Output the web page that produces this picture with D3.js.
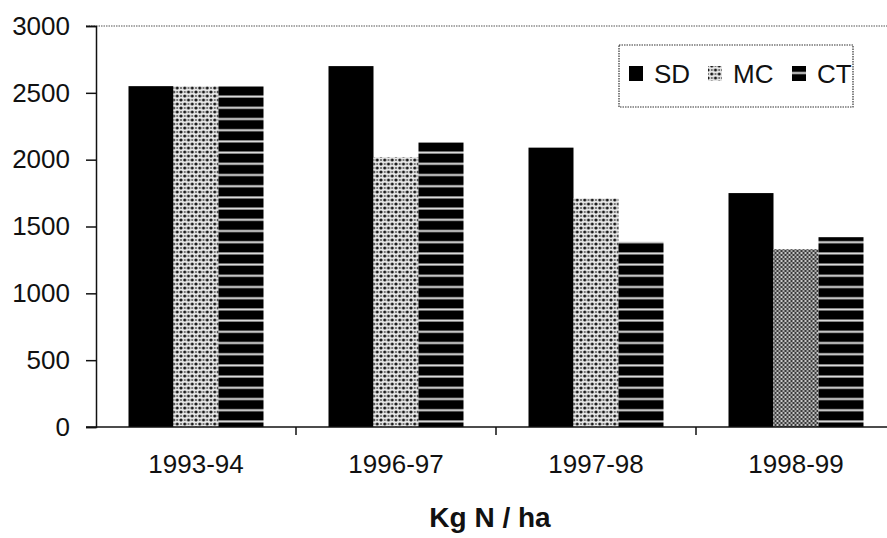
<!DOCTYPE html>
<html>
<head>
<meta charset="utf-8">
<script src="https://cdn.jsdelivr.net/npm/d3@7"></script>
<style>
  body { margin: 0; background: #fff; }
  svg { display: block; font-family: Arial, "Liberation Sans", sans-serif; }
</style>
</head>
<body>
<script>
// data
var seasons = ["1993-94", "1996-97", "1997-98", "1998-99"];
var series = ["SD", "MC", "CT"];
var sdValues = [2550, 2700, 2090, 1750];
var mcValues = [2550, 2020, 1710, 1330];
var ctValues = [2550, 2130, 1385, 1420];
var yTicks = [0, 500, 1000, 1500, 2000, 2500, 3000];
var xTitle = "Kg N / ha";

var W = 887, H = 538;
var margin = {left: 96, top: 26, bottom: 111};
var fs = 26;

var svg = d3.select("body").append("svg")
  .attr("width", W).attr("height", H);

var defs = svg.append("defs");

// MC: chain of light rings on dark
var mc = defs.append("pattern").attr("id", "mc")
  .attr("patternUnits", "userSpaceOnUse")
  .attr("width", 7.5).attr("height", 8);
mc.append("rect").attr("width", 7.5).attr("height", 8).attr("fill", "#1a1a1a");
[[3.75, 0], [0, 4], [7.5, 4], [3.75, 8]].forEach(function (p) {
  mc.append("circle").attr("cx", p[0]).attr("cy", p[1]).attr("r", 2.4)
    .attr("fill", "none").attr("stroke", "#e6e6e6").attr("stroke-width", 1.6);
});

// MC last season: finer grey checker
var mc2 = defs.append("pattern").attr("id", "mc2")
  .attr("patternUnits", "userSpaceOnUse")
  .attr("width", 4).attr("height", 4);
mc2.append("rect").attr("width", 4).attr("height", 4).attr("fill", "#3a3a3a");
mc2.append("rect").attr("width", 2).attr("height", 2).attr("fill", "#c8c8c8");
mc2.append("rect").attr("x", 2).attr("y", 2).attr("width", 2).attr("height", 2).attr("fill", "#a8a8a8");

// CT: black with thin light horizontal lines
var ct = defs.append("pattern").attr("id", "ct")
  .attr("patternUnits", "userSpaceOnUse")
  .attr("width", 6).attr("height", 11.2);
ct.append("rect").attr("width", 6).attr("height", 11.2).attr("fill", "#000");
ct.append("rect").attr("y", 6).attr("width", 6).attr("height", 2).attr("fill", "#e4e4e4");

var x = d3.scaleBand().domain(seasons).range([margin.left, margin.left + 800]);
var xs = d3.scaleBand().domain(series).range([0, 135]);
var y = d3.scaleLinear().domain([0, 3000]).range([H - margin.bottom, margin.top]);

var valuesBy = {SD: sdValues, MC: mcValues, CT: ctValues};
function fillFor(s, i) {
  if (s === "SD") return "#000";
  if (s === "CT") return "url(#ct)";
  return i === seasons.length - 1 ? "url(#mc2)" : "url(#mc)";
}

// top dotted frame line
svg.append("line")
  .attr("x1", margin.left - 10).attr("x2", W)
  .attr("y1", y(3000)).attr("y2", y(3000))
  .attr("stroke", "#555").attr("stroke-width", 1.2).attr("stroke-dasharray", "1.5,1");

// bars
seasons.forEach(function (season, i) {
  var g = svg.append("g").attr("transform", "translate(" + (x(season) + 32.5) + ",0)");
  series.forEach(function (s) {
    var v = valuesBy[s][i];
    g.append("rect")
      .attr("x", xs(s)).attr("width", xs.bandwidth())
      .attr("y", y(v)).attr("height", y(0) - y(v))
      .attr("fill", fillFor(s, i));
  });
});

// y axis
var yAxis = svg.append("g")
  .attr("transform", "translate(" + margin.left + ",0)")
  .call(d3.axisLeft(y).tickValues(yTicks).tickSize(10).tickPadding(16).tickFormat(d3.format("d")));
yAxis.attr("font-size", null).attr("font-family", null);
yAxis.select(".domain").attr("stroke", "#111").attr("stroke-width", 1.5);
yAxis.selectAll(".tick line").attr("stroke", "#111").attr("stroke-width", 1.5);
yAxis.selectAll(".tick text").attr("font-size", fs).attr("fill", "#111");

// x axis baseline
svg.append("line")
  .attr("x1", margin.left - 10).attr("x2", W)
  .attr("y1", y(0)).attr("y2", y(0))
  .attr("stroke", "#111").attr("stroke-width", 1.5);

var xAxis = svg.append("g")
  .attr("transform", "translate(0," + y(0) + ")")
  .call(d3.axisBottom(x).tickSize(0).tickPadding(28));
xAxis.attr("font-size", null).attr("font-family", null);
xAxis.select(".domain").remove();
xAxis.selectAll(".tick text").attr("font-size", fs).attr("fill", "#111");

// category separator ticks
svg.selectAll(".sep").data(seasons.slice(1)).enter().append("line")
  .attr("class", "sep")
  .attr("x1", function (d) { return x(d); }).attr("x2", function (d) { return x(d); })
  .attr("y1", y(0)).attr("y2", y(0) + 8)
  .attr("stroke", "#111").attr("stroke-width", 1.5);

// axis title
svg.append("text")
  .attr("x", 490).attr("y", 527)
  .attr("text-anchor", "middle")
  .attr("font-size", 28).attr("font-weight", "bold").attr("fill", "#111")
  .text(xTitle);

// legend
var legend = svg.append("g").attr("transform", "translate(619,45)");
legend.append("rect")
  .attr("width", 234).attr("height", 62)
  .attr("fill", "#fff").attr("stroke", "#333").attr("stroke-width", 1.2)
  .attr("stroke-dasharray", "1.5,1");
var legX = [10, 89, 173];
series.forEach(function (s, i) {
  var it = legend.append("g").attr("transform", "translate(" + legX[i] + ",21)");
  it.append("rect").attr("width", 14).attr("height", 15)
    .attr("fill", s === "SD" ? "#000" : s === "MC" ? "url(#mc)" : "url(#ct)");
  it.append("text").attr("x", 25).attr("y", 17)
    .attr("font-size", fs).attr("fill", "#111").text(s);
});
</script>
</body>
</html>
